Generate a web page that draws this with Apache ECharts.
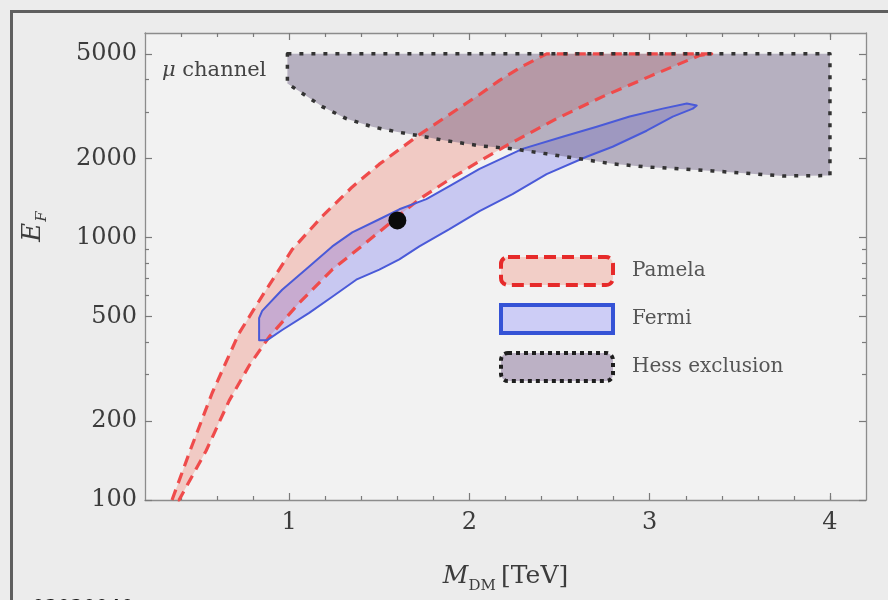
<!DOCTYPE html>
<html>
<head>
<meta charset="utf-8">
<script src="https://cdn.jsdelivr.net/npm/echarts@6/dist/echarts.min.js"></script>
<style>
  html, body { margin: 0; padding: 0; background: #ececec; }
  #chart { width: 888px; height: 600px; }
</style>
</head>
<body>
<div id="chart"></div>
<script>
// Pamela band: upper (left) boundary from bottom to top, then lower (right) boundary from top to bottom
const pamelaUpperM = [0.35, 0.45, 0.572, 0.722, 0.872, 1.017, 1.183, 1.35, 1.5, 1.722, 1.872, 2.056, 2.167, 2.294, 2.428];
const pamelaUpperE = [100, 154, 255, 432, 632, 900, 1202, 1556, 1900, 2460, 2884, 3500, 3962, 4480, 5000];
const pamelaLowerM = [3.344, 3.278, 3.0, 2.739, 2.483, 2.222, 2.056, 1.906, 1.722, 1.428, 1.239, 1.056, 0.889, 0.778, 0.667, 0.539, 0.389];
const pamelaLowerE = [5000, 4935, 4102, 3435, 2831, 2270, 1950, 1690, 1399, 957, 754, 563, 418, 325, 239, 154, 100];

// Fermi contour: upper edge left to tip, lower edge tip back to left
const fermiUpperM = [0.833, 0.833, 0.85, 0.961, 1.111, 1.239, 1.35, 1.5, 1.611, 1.761, 1.889, 2.056, 2.294, 2.517, 2.706, 2.889, 3.072, 3.206, 3.261];
const fermiUpperE = [406, 493, 525, 632, 774, 924, 1045, 1172, 1279, 1399, 1567, 1823, 2173, 2415, 2637, 2884, 3091, 3236, 3177];
const fermiLowerM = [3.239, 3.128, 2.983, 2.794, 2.65, 2.428, 2.239, 2.056, 1.889, 1.722, 1.611, 1.5, 1.372, 1.239, 1.111, 0.961, 0.878];
const fermiLowerE = [3091, 2884, 2547, 2213, 2027, 1742, 1462, 1259, 1074, 924, 824, 754, 690, 594, 516, 444, 406];

// HESS excluded region: top edge, right edge, then lower boundary back to the left
const hessM = [0.99, 4.0, 4.0, 3.739, 3.35, 3.167, 2.983, 2.794, 2.611, 2.428, 2.239, 2.056, 1.872, 1.722, 1.594, 1.461, 1.317, 1.183, 1.056, 0.99];
const hessE = [5000, 5000, 1720, 1713, 1791, 1822, 1855, 1905, 1991, 2080, 2174, 2233, 2333, 2437, 2523, 2637, 2832, 3147, 3597, 3855];

// Best-fit point
const bestFitM = [1.6];
const bestFitE = [1160];

// Axis ticks
const xLabelTicks = [1, 2, 3, 4];
const xMinorTicks = [0.4, 0.6, 0.8, 1.2, 1.4, 1.6, 1.8, 2.2, 2.4, 2.6, 2.8, 3.2, 3.4, 3.6, 3.8, 4.0];
const yLabelTicks = [100, 200, 500, 1000, 2000, 5000];
const yMinorTicks = [300, 400, 600, 700, 800, 900, 3000, 4000];

const serif = '"DejaVu Serif", "Liberation Serif", serif';
const labelColor = '#3c3c3c';
const axisColor = '#8c8c8c';

function polygonSeries(name, ms, es, fill, stroke, lineWidth, dash, cap) {
  return {
    type: 'custom',
    name: name,
    xAxisIndex: 0,
    yAxisIndex: 0,
    data: [[ms[0], es[0]]],
    renderItem: function (params, api) {
      const pts = ms.map(function (m, i) { return api.coord([m, es[i]]); });
      return {
        type: 'group',
        children: [
          { type: 'polygon', z2: 1, shape: { points: pts }, style: { fill: fill, stroke: null } },
          { type: 'polygon', z2: 20, shape: { points: pts },
            style: { fill: null, stroke: stroke, lineWidth: lineWidth, lineDash: dash, lineCap: cap || 'butt', lineJoin: 'round' } }
        ]
      };
    },
    silent: true
  };
}

const pamelaM = pamelaUpperM.concat(pamelaLowerM);
const pamelaE = pamelaUpperE.concat(pamelaLowerE);
const fermiM = fermiUpperM.concat(fermiLowerM);
const fermiE = fermiUpperE.concat(fermiLowerE);

function xAxisDef(position, major) {
  return {
    type: 'value', min: 0.2, max: 4.2, position: position,
    axisLine: { show: major, lineStyle: { color: axisColor, width: 1.3 } },
    axisTick: { show: true, inside: true, length: major ? 7 : 4,
      customValues: major ? xLabelTicks : xMinorTicks, lineStyle: { color: '#7a7a7a', width: 1.2 } },
    axisLabel: (major && position === 'bottom')
      ? { show: true, customValues: xLabelTicks, fontFamily: serif, fontSize: 24, color: labelColor, margin: 11 }
      : { show: false },
    splitLine: { show: false }
  };
}

function yAxisDef(position, major) {
  return {
    type: 'log', logBase: 10, min: 100, max: 6000, position: position,
    axisLine: { show: major, lineStyle: { color: axisColor, width: 1.3 } },
    axisTick: { show: true, inside: true, length: major ? 7 : 4,
      customValues: major ? yLabelTicks : yMinorTicks, lineStyle: { color: '#7a7a7a', width: 1.2 } },
    axisLabel: (major && position === 'left')
      ? { show: true, customValues: yLabelTicks, fontFamily: serif, fontSize: 24, color: labelColor, margin: 8,
          formatter: function (v) { return String(Math.round(v)); } }
      : { show: false },
    splitLine: { show: false },
    minorTick: { show: false }
  };
}

const xMain = xAxisDef('bottom', true);
xMain.name = '{m|M}{s|DM} {u|[TeV]}';
xMain.nameLocation = 'middle';
xMain.nameGap = 64;
xMain.nameMoveOverlap = false;
xMain.nameTextStyle = {
  rich: {
    m: { fontFamily: serif, fontStyle: 'italic', fontSize: 25, color: labelColor, lineHeight: 30, verticalAlign: 'top' },
    s: { fontFamily: serif, fontSize: 15, color: labelColor, lineHeight: 15, padding: [15, 2, 0, 0], verticalAlign: 'top' },
    u: { fontFamily: serif, fontSize: 25, color: labelColor, lineHeight: 30, verticalAlign: 'top' }
  }
};

const yMain = yAxisDef('left', true);
yMain.name = '{e|E}{s|F}';
yMain.nameLocation = 'middle';
yMain.nameRotate = 90;
yMain.nameGap = 95;
yMain.nameMoveOverlap = false;
yMain.nameTextStyle = {
  padding: [0, 0, 0, 80],
  rich: {
    e: { fontFamily: serif, fontStyle: 'italic', fontSize: 26, color: labelColor, lineHeight: 30, verticalAlign: 'top' },
    s: { fontFamily: serif, fontStyle: 'italic', fontSize: 15, color: labelColor, lineHeight: 15, padding: [15, 0, 0, 1], verticalAlign: 'top' }
  }
};

const chart = echarts.init(document.getElementById('chart'), null, { renderer: 'canvas' });

chart.setOption({
  backgroundColor: '#ececec',
  animation: false,
  grid: {
    left: 145, right: 22, top: 33, bottom: 100,
    show: true, backgroundColor: '#f2f2f2', borderWidth: 0,
    outerBoundsMode: 'none'
  },
  xAxis: [xMain, xAxisDef('bottom', false), xAxisDef('top', true), xAxisDef('top', false)],
  yAxis: [yMain, yAxisDef('left', false), yAxisDef('right', true), yAxisDef('right', false)],
  legend: {
    orient: 'vertical',
    left: 499, top: 255, padding: 0,
    itemWidth: 112, itemHeight: 28, itemGap: 16,
    selectedMode: false,
    textStyle: { fontFamily: serif, fontSize: 20, color: '#555', padding: [0, 0, 0, 14] },
    data: [
      { name: 'Pamela', icon: 'roundRect',
        itemStyle: { color: 'rgba(242,170,155,0.5)', borderColor: '#e62a2a', borderWidth: 4, borderType: [12, 6] } },
      { name: 'Fermi', icon: 'rect',
        itemStyle: { color: 'rgba(190,190,248,0.7)', borderColor: '#3553d6', borderWidth: 4, borderType: 'solid' } },
      { name: 'Hess exclusion', icon: 'roundRect',
        itemStyle: { color: 'rgba(165,150,178,0.7)', borderColor: '#1e1e1e', borderWidth: 4, borderType: [4, 4] } }
    ]
  },
  graphic: [
    { type: 'rect', left: 9, top: 9, silent: true,
      shape: { width: 900, height: 700 },
      style: { fill: null, stroke: '#5f5f5f', lineWidth: 3 } },
    { type: 'text', left: 162, top: 60, silent: true,
      style: { text: '{i|μ} channel', fill: '#444',
        rich: { i: { fontFamily: serif, fontStyle: 'italic', fontSize: 21, fill: '#444' } },
        font: '21px "DejaVu Serif", serif' } },
    { type: 'text', left: 32, top: 598, silent: true,
      style: { text: '03030040', fill: '#111', font: '20px "DejaVu Sans", sans-serif' } }
  ],
  series: [
    polygonSeries('Pamela', pamelaM, pamelaE, 'rgba(240,110,90,0.3)', '#ef4b4b', 3.2, [11, 7]),
    polygonSeries('Fermi', fermiM, fermiE, 'rgba(90,90,240,0.27)', '#4a5ad8', 2, null),
    polygonSeries('Hess exclusion', hessM, hessE, 'rgba(100,85,125,0.42)', '#333333', 3.5, [4, 8]),
    {
      type: 'scatter', name: 'best fit',
      xAxisIndex: 0, yAxisIndex: 0,
      data: bestFitM.map(function (m, i) { return [m, bestFitE[i]]; }),
      symbol: 'circle', symbolSize: 18,
      itemStyle: { color: '#0a0a0a', opacity: 1 },
      z: 5, silent: true
    }
  ]
});
</script>
</body>
</html>
